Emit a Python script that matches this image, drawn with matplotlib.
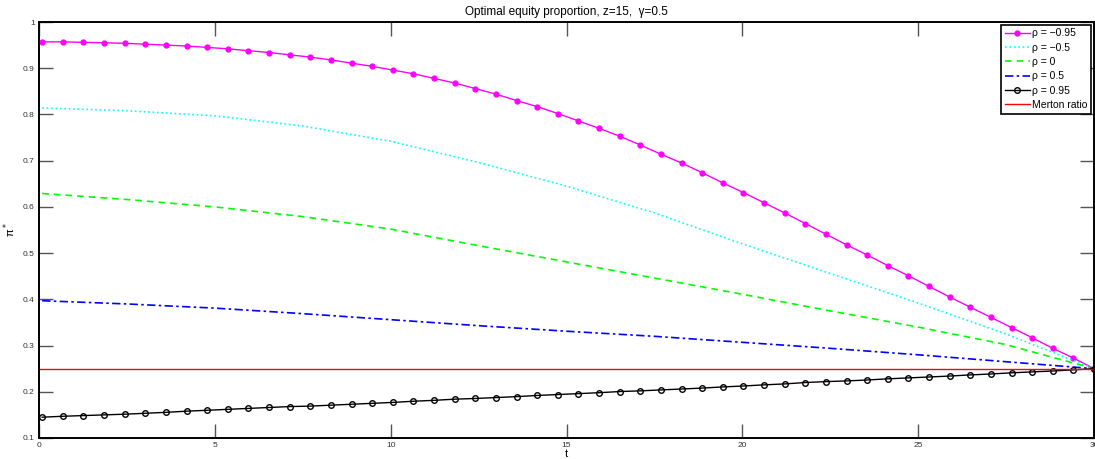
import numpy as np
import matplotlib
matplotlib.use('Agg')
import matplotlib.pyplot as plt

plt.rcParams['font.family'] = ['Liberation Sans', 'DejaVu Sans']

# time grid of the marked series (52 points)
t = np.linspace(0.09, 30, 52)

# rho = -0.95 (magenta, markers)
pi_m095 = [0.957, 0.957, 0.956, 0.955, 0.954, 0.952, 0.950, 0.948, 0.945, 0.942, 0.938, 0.934, 0.929,
           0.924, 0.918, 0.911, 0.904, 0.896, 0.888, 0.878, 0.868, 0.856, 0.844, 0.830, 0.817, 0.802,
           0.786, 0.770, 0.753, 0.734, 0.714, 0.695, 0.674, 0.652, 0.631, 0.609, 0.587, 0.564, 0.541,
           0.518, 0.496, 0.473, 0.451, 0.428, 0.405, 0.383, 0.361, 0.339, 0.317, 0.294, 0.273, 0.250]

# rho = 0.95 (black circles)
pi_p095 = [0.145, 0.147, 0.1485, 0.150, 0.1515, 0.1535, 0.1555, 0.158, 0.160, 0.162, 0.164, 0.166, 0.168,
           0.169, 0.171, 0.173, 0.175, 0.177, 0.1795, 0.1815, 0.184, 0.1855, 0.1875, 0.1895, 0.192, 0.194,
           0.196, 0.198, 0.2005, 0.202, 0.204, 0.206, 0.208, 0.2105, 0.2125, 0.215, 0.217, 0.220, 0.222,
           0.2235, 0.2255, 0.228, 0.230, 0.232, 0.234, 0.2365, 0.2385, 0.241, 0.243, 0.245, 0.2475, 0.250]

# unmarked series, read at coarser t
t_lines = [0.09, 2.5, 5.0, 7.5, 10.0, 12.5, 15.0, 17.5, 20.0, 22.5, 25.0, 27.5, 30.0]
pi_m05 = [0.814, 0.808, 0.797, 0.775, 0.742, 0.696, 0.645, 0.587, 0.520, 0.456, 0.392, 0.325, 0.250]
pi_0 = [0.629, 0.616, 0.600, 0.579, 0.552, 0.516, 0.481, 0.446, 0.411, 0.375, 0.340, 0.302, 0.250]
pi_p05 = [0.397, 0.390, 0.381, 0.369, 0.356, 0.343, 0.331, 0.320, 0.307, 0.294, 0.280, 0.265, 0.250]

merton = 0.25

fig = plt.figure(figsize=(10.95, 4.59), dpi=100)
ax = fig.add_axes([39/1095, 21/459, 1055/1095, 416/459])

ax.plot(t, pi_m095, '-', color='#ff00ff', lw=1, marker='o', ms=3.5, mec='#ff00ff', label='\u03c1 = \u22120.95')
ax.plot(t_lines, pi_m05, ':', color='#00ffff', lw=1.2, label='\u03c1 = \u22120.5')
ax.plot(t_lines, pi_0, '--', color='#00ff00', lw=1.2, dashes=(4, 3), label='\u03c1 = 0')
ax.plot(t_lines, pi_p05, '-.', color='#0000ff', lw=1.2, dashes=(5, 2, 1.5, 2), label='\u03c1 = 0.5')
ax.plot(t, pi_p095, '-', color='black', lw=1, marker='o', ms=4, mfc='none', mew=1, label='\u03c1 = 0.95')
ax.axhline(merton, color='#ff0000', lw=1, label='Merton ratio')

ax.set_xlim(0, 30)
ax.set_ylim(0.1, 1)
ax.set_xticks([0, 5, 10, 15, 20, 25, 30])
ax.set_yticks([0.1, 0.2, 0.3, 0.4, 0.5, 0.6, 0.7, 0.8, 0.9, 1])
ax.set_yticklabels(['0.1', '0.2', '0.3', '0.4', '0.5', '0.6', '0.7', '0.8', '0.9', '1'])
ax.tick_params(direction='in', length=10, width=1, color='#555555', labelsize=6,
               labelcolor='#333333', top=True, right=True, pad=3)
for s in ax.spines.values():
    s.set_linewidth(1.4)

ax.set_title('Optimal equity proportion, z=15,  \u03b3=0.5', fontsize=8.5, pad=5)
ax.set_xlabel('t', fontsize=8, labelpad=0)
ax.set_ylabel('\u03c0$^*$', fontsize=8)
ax.yaxis.set_label_coords(-0.02, 0.5)

leg = ax.legend(loc='upper right', fontsize=7.5, handlelength=2.4, labelspacing=0.42,
                borderaxespad=0.25, borderpad=0.35, handletextpad=0.25, fancybox=False,
                framealpha=1, edgecolor='black')
leg.get_frame().set_linewidth(1.2)

plt.savefig('out.png', dpi=100)
